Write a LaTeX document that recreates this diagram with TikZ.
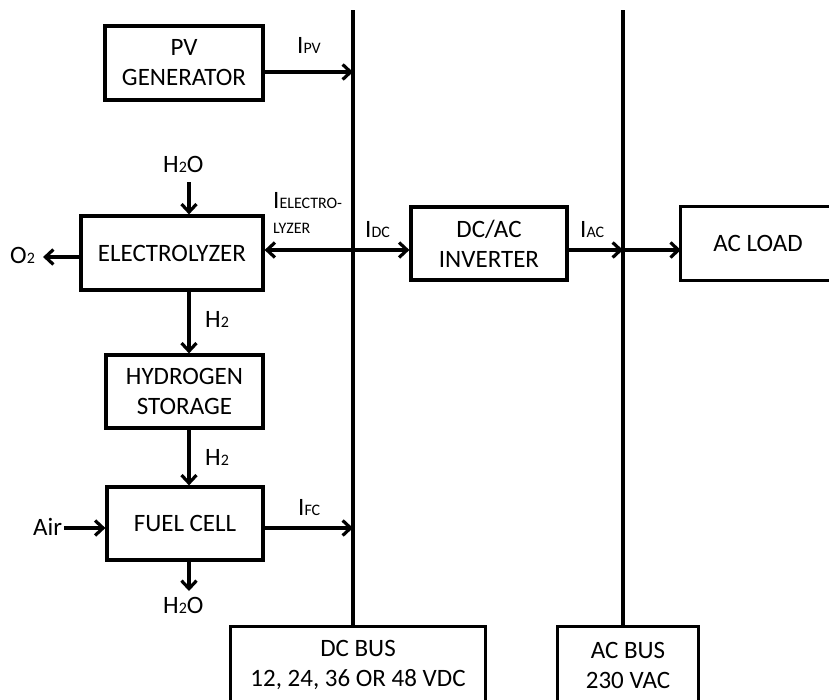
\documentclass[tikz,border=0pt]{standalone}
\usepackage{fontspec}
\setmainfont{Carlito}
\usetikzlibrary{arrows.meta,calc}
\newcommand\sbs[1]{{\fontsize{16}{16}\selectfont #1}}
\begin{document}
\begin{tikzpicture}[x=1pt,y=-1pt,
  every node/.style={font=\fontsize{25}{30}\selectfont},
  box/.style={draw,line width=3.2pt,inner sep=0pt,align=center},
  openbox/.style={inner sep=0pt,align=center},
  lbl/.style={inner sep=0pt,anchor=base west},
  ln/.style={line width=3.2pt},
  arr/.style={ln,-{Straight Barb[length=8pt,width=15pt]}},
  arrtwo/.style={ln,{Straight Barb[length=8pt,width=15pt]}-{Straight Barb[length=8pt,width=15pt]}}]
\useasboundingbox (0,0) rectangle (829,699);
\clip (0,0) rectangle (829,699);

% boxes
\node[box,minimum width=158pt,minimum height=74pt] (pv) at (184,63) {PV\\GENERATOR};
\node[box,minimum width=182pt,minimum height=74pt] (el) at (172,253) {ELECTROLYZER};
\node[box,minimum width=157pt,minimum height=73pt] (hs) at (184.5,391.5) {HYDROGEN\\STORAGE};
\node[box,minimum width=156pt,minimum height=73pt] (fc) at (185,523.5) {FUEL CELL};
\node[box,minimum width=156pt,minimum height=73pt] (inv) at (489,243.5) {DC/AC\\INVERTER};
\node[openbox,minimum width=154pt,minimum height=73pt] (load) at (758,243.5) {AC LOAD};
\draw[ln] (load.north east) -- (load.north west) -- (load.south west) -- (load.south east);
\node[openbox,minimum width=254pt,minimum height=76pt] (dcbus) at (358,665) {DC BUS\\12, 24, 36 OR 48 VDC};
\draw[ln] (dcbus.south west) -- (dcbus.north west) -- (dcbus.north east) -- (dcbus.south east);
\node[openbox,minimum width=140pt,minimum height=76pt] (acbus) at (628,665) {AC BUS\\230 VAC};
\draw[ln] (acbus.south west) -- (acbus.north west) -- (acbus.north east) -- (acbus.south east);

% bus lines
\coordinate (dct) at (353,10);
\coordinate (act) at (623,10);
\draw[ln] (dct) -- (dct |- dcbus.north);
\draw[ln] (act) -- (act |- acbus.north);

% PV
\coordinate (pvo) at ($(pv.east)+(0,9)$);
\draw[arr] (pvo) -- (pvo -| dct);
\node[lbl] (ipv) at (297,53) {I\sbs{PV}};

% electrolyzer <-> inverter
\coordinate (elo) at ($(el.east)+(0,-3)$);
\draw[arrtwo] (elo) -- (elo -| inv.west);
\node[lbl] (iel) at (273,208) {I\sbs{ELECTRO-}};
\node[lbl] (iel2) at (273,233) {\sbs{LYZER}};
\node[lbl] (idc) at (365,237) {I\sbs{DC}};

% inverter -> AC bus -> load
\coordinate (invo) at ($(inv.east)+(0,6.5)$);
\coordinate (acj) at (invo -| act);
\draw[arr] (invo) -- (acj);
\draw[arr] (acj) -- (acj -| load.west);
\node[lbl] (iac) at (580,237) {I\sbs{AC}};

% water in / oxygen out
\coordinate (ax) at (189,0);
\node[lbl] (h2oa) at (163,172) {H\sbs{2}O};
\coordinate (ha) at (189,182);
\draw[arr] (ha) -- (ha |- el.north);
\node[lbl] (o2) at (10,263) {O\sbs{2}};
\coordinate (elw) at ($(el.west)+(0,4)$);
\draw[arr] (elw) -- ($(elw -| o2.east)+(8,0)$);

% hydrogen chain
\draw[arr] (el.south -| ax) -- (hs.north -| ax);
\node[lbl] (h2a) at (205,327) {H\sbs{2}};
\draw[arr] (hs.south -| ax) -- (fc.north -| ax);
\node[lbl] (h2b) at (205,465) {H\sbs{2}};

% fuel cell
\node[lbl] (air) at (33,535) {Air};
\coordinate (fcw) at ($(fc.west)+(0,4.5)$);
\draw[arr] ($(fcw -| air.east)+(2,0)$) -- (fcw);
\coordinate (fce) at ($(fc.east)+(0,4.5)$);
\draw[arr] (fce) -- (fce -| dct);
\node[lbl] (ifc) at (298,515) {I\sbs{FC}};
\node[lbl] (h2ob) at (163,613) {H\sbs{2}O};
\coordinate (hb) at (189,591);
\draw[arr] (fc.south -| ax) -- (hb);
\end{tikzpicture}
\end{document}
